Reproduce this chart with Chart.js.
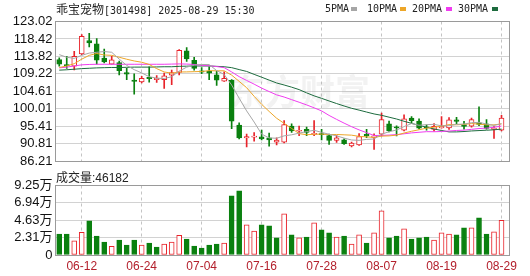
<!DOCTYPE html>
<html>
<head>
<meta charset="utf-8">
<script src="https://cdn.jsdelivr.net/npm/chart.js@4.4.0/dist/chart.umd.min.js"></script>
<style>
  body { margin: 0; background: #fff; width: 530px; height: 276px; position: relative; overflow: hidden; }
  canvas { position: absolute; left: 0; }
  #priceChart { top: 0; }
  #volChart { top: 172px; }
  .txt { position: absolute; white-space: nowrap; color: #222; font-family: "DejaVu Sans Mono", monospace; font-size: 10px; line-height: 12px; }
  .cjk { font-family: "Noto Sans CJK SC", sans-serif; font-size: 12px; }
  .mk { position: absolute; width: 6px; height: 4px; }
</style>
</head>
<body>
<canvas id="priceChart" width="530" height="172"></canvas>
<canvas id="volChart" width="530" height="104"></canvas>
<div class="txt" style="left:56px;top:3px"><span class="cjk">乖宝宠物</span>[301498] 2025-08-29 15:30</div>
<div id="legend"></div>
<div class="txt" style="left:56px;top:170px;line-height:14px;font-family:'Liberation Sans',Arial;font-size:12px"><span class="cjk">成交量</span>:46182</div>
<script>
// 交易日
const dates = ['06-09','06-10','06-11','06-12','06-13','06-16','06-17','06-18','06-19','06-20',
  '06-23','06-24','06-25','06-26','06-27','06-30','07-01','07-02','07-03','07-04',
  '07-07','07-08','07-09','07-10','07-11','07-14','07-15','07-16','07-17','07-18',
  '07-21','07-22','07-23','07-24','07-25','07-28','07-29','07-30','07-31','08-01',
  '08-04','08-05','08-06','08-07','08-08','08-11','08-12','08-13','08-14','08-15',
  '08-18','08-19','08-20','08-21','08-22','08-25','08-26','08-27','08-28','08-29'];

const opens = [113.0,111.7,111.25,114.45,118.0,117.15,113.35,111.75,112.2,109.56,
  107.6,107.11,108.29,107.7,107.7,108.88,109.6,115.3,112.77,110.0,
  109.98,108.97,107.28,107.53,95.72,92.34,92.51,92.6,92.4,91.2,
  91.24,95.47,94.1,94.62,93.27,93.52,92.93,91.66,91.83,90.23,
  90.5,93.3,92.5,93.3,96.07,95.2,94.37,97.57,96.8,95.2,
  94.6,95.0,95.0,97.1,95.88,95.46,96.3,96.06,94.6,94.37];
const highs = [113.44,113.86,115.13,119.6,119.9,118.5,115.72,113.86,112.6,110.66,
  109.22,108.55,111.08,108.8,109.4,110.23,115.63,116.14,113.6,110.9,
  111.08,109.98,109.73,107.7,96.31,93.35,93.77,94.4,93.6,92.4,
  96.9,96.06,95.47,95.2,96.9,94.6,93.35,92.93,92.09,91.24,
  93.5,94.6,93.4,98.9,96.8,95.5,98.42,98.0,97.4,95.8,
  96.1,98.0,97.7,97.8,96.73,97.57,100.53,97.15,95.3,98.3];
const lows = [111.25,110.66,110.23,114.3,116.3,111.75,112.09,111.75,108.97,107.7,
  103.9,106.86,107.03,107.0,105.4,106.4,108.97,112.5,110.2,109.3,
  107.7,106.18,107.2,94.8,92.09,90.0,91.5,91.8,90.2,90.5,
  91.0,93.77,92.93,92.93,92.93,91.8,90.6,91.15,90.65,89.98,
  90.4,92.4,89.3,92.9,93.9,92.9,94.2,96.2,94.7,94.4,
  94.1,94.9,94.6,96.1,94.62,95.2,95.6,94.62,92.2,94.2];
const closes = [111.75,111.4,113.86,119.1,117.4,112.8,112.34,112.93,110.06,109.14,
  107.2,108.04,107.95,108.12,108.7,109.56,115.4,113.19,110.66,109.7,
  109.39,107.53,108.04,96.73,92.34,92.68,92.85,92.1,91.8,91.8,
  95.89,94.2,94.37,93.77,93.52,93.18,91.66,92.34,90.82,90.99,
  92.68,92.9,92.9,97.17,94.2,95.0,97.4,96.9,94.9,95.0,
  95.4,95.4,97.1,96.7,95.38,97.15,95.9,94.87,94.9,97.57];

// 成交量（万）
const volumes = [2.80,2.80,1.87,3.02,4.54,2.53,1.73,1.16,2.00,1.33,
  2.00,1.33,1.60,1.07,1.47,1.73,2.62,2.13,1.20,0.93,
  1.33,1.47,1.60,7.87,8.54,4.00,3.20,4.00,3.87,2.27,
  5.47,2.67,2.27,2.40,4.27,3.34,2.94,2.40,2.53,1.47,
  2.67,1.60,2.94,5.87,2.27,2.53,3.47,2.13,2.27,2.40,
  2.00,2.94,2.80,2.67,3.60,3.60,4.94,2.80,3.07,4.6182];
const volUp = [0,0,1,1,0,0,0,1,0,0, 0,1,0,0,1,1,1,0,0,0,
  0,0,1,0,0,1,1,0,0,0, 1,0,1,0,1,0,0,1,0,1,
  1,0,1,1,0,0,1,0,0,0, 1,1,1,0,0,1,0,0,1,1];

const ma5 = [114.3,113.6,113.3,114.1,114.70,114.91,115.10,114.91,113.11,111.45,
  110.33,109.47,108.48,108.09,108.00,108.47,109.95,110.99,111.50,111.70,
  111.67,110.09,109.06,106.28,102.81,99.46,96.53,93.34,92.35,92.25,
  92.89,93.16,93.61,94.01,94.35,93.81,93.30,92.89,92.30,91.80,
  91.70,91.95,92.06,93.33,93.97,94.43,95.33,96.13,95.68,95.84,
  95.92,95.52,95.56,95.92,96.00,96.35,96.45,96.00,95.64,96.08];
const ma10 = [110.9,111.3,111.9,113.1,114.1,114.6,114.2,114.1,113.6,113.08,
  112.62,112.29,111.70,110.60,109.73,109.40,109.71,109.74,109.80,109.85,
  110.07,110.02,110.03,108.89,107.25,105.57,103.31,101.20,99.32,97.53,
  96.18,94.84,93.48,93.18,93.30,93.35,93.23,93.25,93.16,93.07,
  92.75,92.62,92.48,92.82,92.88,93.07,93.64,94.10,94.50,94.91,
  95.18,95.43,95.85,95.80,95.92,96.13,95.98,95.78,95.78,96.04];
const ma20 = [110.8,111.0,111.3,111.6,111.7,111.75,111.75,111.75,111.75,111.75,
  111.75,111.75,111.75,111.75,111.75,111.8,111.85,111.8,111.7,111.47,
  111.35,111.15,110.86,109.74,108.49,107.49,106.51,105.47,104.56,103.69,
  103.12,102.43,101.75,101.04,100.28,99.46,98.27,97.23,96.24,95.30,
  94.46,93.73,92.98,93.00,93.09,93.21,93.43,93.67,93.83,93.99,
  93.97,94.03,94.16,94.31,94.40,94.60,94.81,94.94,95.14,95.47];
const ma30 = [110.2,110.3,110.45,110.6,110.7,110.8,110.85,110.9,110.9,110.95,
  111.0,111.0,111.0,111.05,111.1,111.1,111.2,111.25,111.3,111.3,
  111.3,111.2,111.1,110.86,110.35,109.86,109.09,108.34,107.58,106.82,
  106.29,105.72,105.07,104.22,103.43,102.77,102.08,101.40,100.76,100.15,
  99.67,99.16,98.66,98.30,97.81,97.33,96.73,96.18,95.66,95.17,
  94.70,94.30,93.93,93.93,94.03,94.18,94.28,94.38,94.48,94.67];

const priceTicks = [86.21, 90.81, 95.41, 100.01, 104.61, 109.22, 113.82, 118.42, 123.02];
const volTicks = [0, 2.3125, 4.625, 6.9375, 9.25];
const volTickLabels = ['0', '2.31万', '4.63万', '6.94万', '9.25万'];
const dateTicks = ['06-12','06-24','07-04','07-16','07-28','08-07','08-19','08-29'];

const maNames = ['5PMA', '10PMA', '20PMA', '30PMA'];
const maColors = ['#a6a6a6', '#eda628', '#f03cf0', '#1d6b3e'];

const RED = '#e8232a';
const GREEN = '#0a800f';
const GRID = '#d2d2d2';
const dateTickIdx = dateTicks.map(d => dates.indexOf(d));

// 图例
(function() {
    const legend = document.getElementById('legend');
    const textX = [325, 367, 412, 458];
    const markX = [351, 400, 446, 492];
    maNames.forEach((name, i) => {
        const t = document.createElement('div');
        t.className = 'txt';
        t.style.left = textX[i] + 'px';
        t.style.top = '3px';
        t.textContent = name;
        legend.appendChild(t);
        const m = document.createElement('div');
        m.className = 'mk';
        m.style.left = markX[i] + 'px';
        m.style.top = '7px';
        m.style.background = maColors[i];
        legend.appendChild(m);
    });
})();

const framePlugin = {
    id: 'frame',
    afterDatasetsDraw(chart) {
        const { ctx, chartArea: a } = chart;
        const l = Math.floor(a.left) + 0.5, r = Math.floor(a.right) + 0.5;
        const t = Math.floor(a.top) + 0.5, b = Math.floor(a.bottom) + 0.5;
        ctx.save();
        ctx.strokeStyle = '#9a9a9a';
        ctx.lineWidth = 1;
        ctx.strokeRect(l, t, r - l, b - t);
        ctx.restore();
    }
};

const watermarkPlugin = {
    id: 'watermark',
    beforeDatasetsDraw(chart) {
        const { ctx } = chart;
        ctx.save();
        ctx.font = 'bold 35px "Noto Sans CJK SC"';
        ctx.fillStyle = 'rgba(150,150,150,0.12)';
        ctx.textBaseline = 'middle';
        ctx.textAlign = 'left';
        ctx.fillText('东方财富', 230, 92);
        ctx.restore();
    }
};

function xAxis(showLabels) {
    return {
        type: 'linear',
        min: -0.5,
        max: 60,
        offset: false,
        afterBuildTicks: s => { s.ticks = dateTickIdx.map(v => ({ value: v })); },
        ticks: {
            display: showLabels,
            autoSkip: false,
            maxRotation: 0,
            padding: 4.5,
            color: '#b3202c',
            font: { family: '"Liberation Sans", Arial', size: 12 },
            callback: v => dates[v]
        },
        grid: { color: '#c4c4c4', drawTicks: false, offset: false },
        border: { display: false, dash: [3, 3] },
        afterFit: s => { s.height = showLabels ? 21 : 0; }
    };
}

const xy = arr => arr.map((v, i) => ({ x: i, y: v }));
const candleUp = closes.map((c, i) => c >= opens[i]);

function maDataset(i, data) {
    return {
        type: 'line',
        label: maNames[i],
        data: xy(data),
        borderColor: maColors[i],
        borderWidth: 1,
        pointRadius: 0,
        tension: 0,
        order: 0
    };
}

new Chart(document.getElementById('priceChart'), {
    type: 'bar',
    data: {
        datasets: [
            maDataset(0, ma5),
            maDataset(1, ma10),
            maDataset(2, ma20),
            maDataset(3, ma30),
            {
                label: 'body',
                data: opens.map((o, i) => ({ x: i, y: [o, closes[i]] })),
                backgroundColor: candleUp.map(u => u ? '#ffffff' : GREEN),
                borderColor: candleUp.map(u => u ? RED : GREEN),
                borderWidth: 1,
                borderSkipped: false,
                minBarLength: 1,
                barThickness: 5,
                grouped: false,
                order: 1
            },
            {
                label: 'wick',
                data: lows.map((l, i) => ({ x: i, y: [l, highs[i]] })),
                backgroundColor: candleUp.map(u => u ? RED : GREEN),
                borderWidth: 0,
                barThickness: 1,
                grouped: false,
                order: 2
            }
        ]
    },
    options: {
        responsive: false,
        animation: false,
        devicePixelRatio: 1,
        layout: { padding: { left: 0, top: 21.5, right: 21, bottom: 6 } },
        plugins: { legend: { display: false }, tooltip: { enabled: false } },
        scales: {
            x: xAxis(false),
            y: {
                min: 86.21,
                max: 123.02,
                afterBuildTicks: s => { s.ticks = priceTicks.map(v => ({ value: v })); },
                ticks: {
                    autoSkip: false,
                    padding: 3,
                    color: '#111',
                    font: { family: '"Liberation Sans", Arial', size: 13 },
                    callback: v => v.toFixed(2)
                },
                grid: { color: GRID, drawTicks: false },
                border: { display: false },
                afterFit: s => { s.width = 55.5; }
            }
        }
    },
    plugins: [watermarkPlugin, framePlugin]
});

new Chart(document.getElementById('volChart'), {
    type: 'bar',
    data: {
        datasets: [{
            label: '成交量',
            data: xy(volumes),
            backgroundColor: volUp.map(u => u ? '#ffffff' : GREEN),
            borderColor: volUp.map(u => u ? RED : GREEN),
            borderWidth: 1,
            borderSkipped: false,
            barThickness: 5,
            grouped: false
        }]
    },
    options: {
        responsive: false,
        animation: false,
        devicePixelRatio: 1,
        layout: { padding: { left: 0, top: 13.5, right: 21, bottom: 0 } },
        plugins: { legend: { display: false }, tooltip: { enabled: false } },
        scales: {
            x: xAxis(true),
            y: {
                min: 0,
                max: 9.25,
                afterBuildTicks: s => { s.ticks = volTicks.map(v => ({ value: v })); },
                ticks: {
                    autoSkip: false,
                    padding: 3,
                    color: '#111',
                    font: { family: '"Liberation Sans", "Noto Sans CJK SC"', size: 13 },
                    callback: (v, i) => volTickLabels[i]
                },
                grid: { color: GRID, drawTicks: false },
                border: { display: false },
                afterFit: s => { s.width = 55.5; }
            }
        }
    },
    plugins: [framePlugin]
});
</script>
</body>
</html>
